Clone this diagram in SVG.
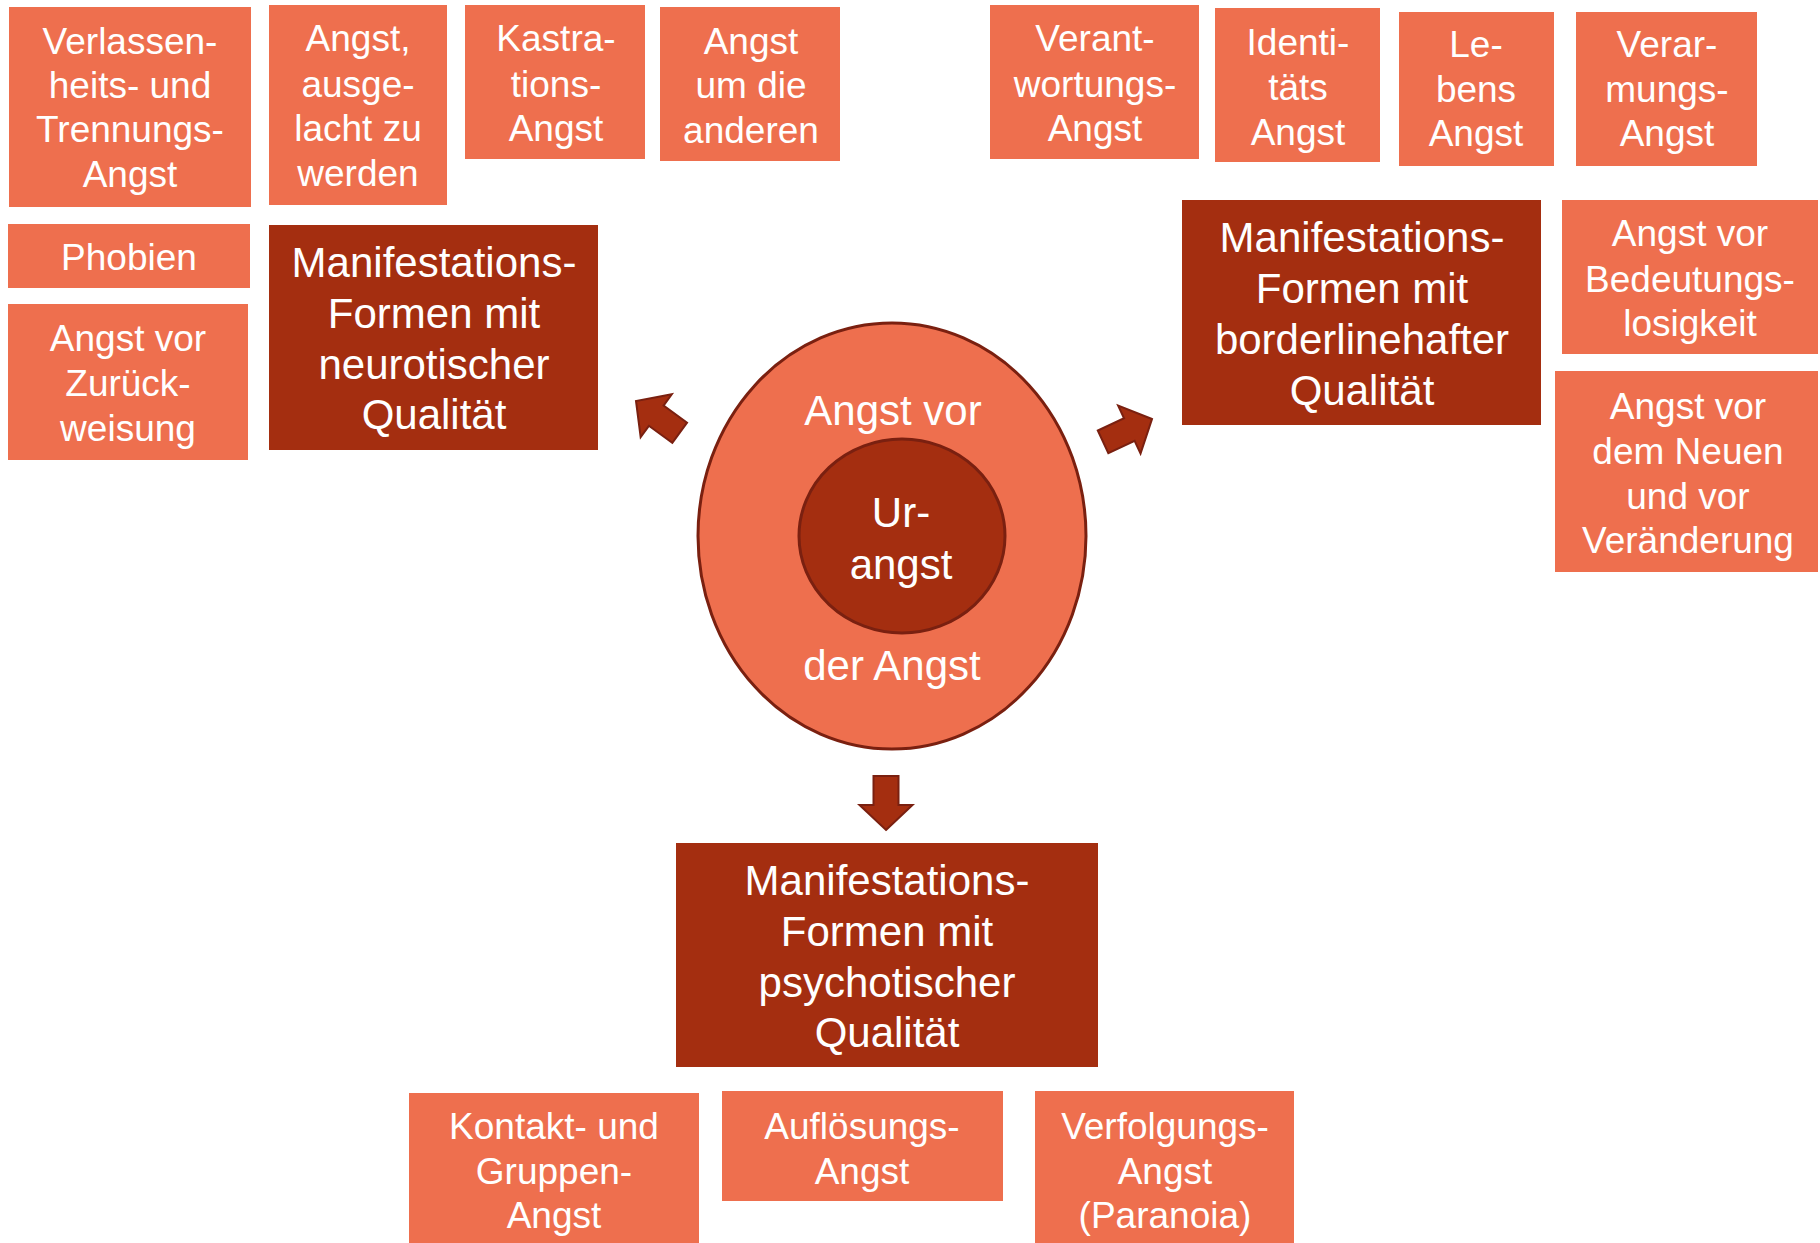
<svg xmlns="http://www.w3.org/2000/svg" width="1820" height="1243" viewBox="0 0 1820 1243">
<style>
.lt{fill:#EE6F4E}
.dk{fill:#A42E10}
text{font-family:"Liberation Sans",Arial,sans-serif;fill:#fff;text-anchor:middle;dominant-baseline:central}
.s{font-size:37px}
.b{font-size:42px}
.arr{fill:#A42E10;stroke:#7A2010;stroke-width:2;stroke-linejoin:miter}
</style>
<defs>
<polygon id="blk" points="0,0 -25,-26.5 -25,-12.5 -54,-12.5 -54,12.5 -25,12.5 -25,26.5"/>
</defs>
<rect width="1820" height="1243" fill="#fff"/>

<g id="connectors">
<use href="#blk" class="arr" transform="translate(886,830) rotate(90)"/>
<use href="#blk" class="arr" transform="translate(636,401) rotate(-144)"/>
<use href="#blk" class="arr" transform="translate(1152,419) rotate(-25)"/>
</g>

<g id="center">
<ellipse cx="892" cy="536" rx="194" ry="213" class="lt" stroke="#7A2010" stroke-width="3"/>
<ellipse cx="902" cy="536" rx="103" ry="97" class="dk" stroke="#7A2010" stroke-width="3"/>
<text class="b" x="893" y="410">Angst vor</text>
<text class="b" x="901" y="512">Ur-</text>
<text class="b" x="901" y="564">angst</text>
<text class="b" x="892" y="665">der Angst</text>
</g>

<g id="n-verlassen"><rect class="lt" x="9" y="7" width="242" height="200"/>
<text class="s" x="130" y="41">Verlassen-</text><text class="s" x="130" y="85">heits- und</text><text class="s" x="130" y="129">Trennungs-</text><text class="s" x="130" y="174">Angst</text></g>

<g id="n-ausgelacht"><rect class="lt" x="269" y="5" width="178" height="200"/>
<text class="s" x="358" y="38">Angst,</text><text class="s" x="358" y="84">ausge-</text><text class="s" x="358" y="128">lacht zu</text><text class="s" x="358" y="173">werden</text></g>

<g id="n-kastration"><rect class="lt" x="465" y="5" width="180" height="154"/>
<text class="s" x="556" y="38">Kastra-</text><text class="s" x="556" y="84">tions-</text><text class="s" x="556" y="128">Angst</text></g>

<g id="n-andere"><rect class="lt" x="660" y="7" width="180" height="154"/>
<text class="s" x="751" y="41">Angst</text><text class="s" x="751" y="85">um die</text><text class="s" x="751" y="130">anderen</text></g>

<g id="n-phobien"><rect class="lt" x="8" y="224" width="242" height="64"/>
<text class="s" x="129" y="257">Phobien</text></g>

<g id="n-zurueck"><rect class="lt" x="8" y="304" width="240" height="156"/>
<text class="s" x="128" y="338">Angst vor</text><text class="s" x="128" y="383">Zurück-</text><text class="s" x="128" y="428">weisung</text></g>

<g id="n-neurotisch"><rect class="dk" x="269" y="225" width="329" height="225"/>
<text class="b" x="434" y="262">Manifestations-</text><text class="b" x="434" y="313">Formen mit</text><text class="b" x="434" y="364">neurotischer</text><text class="b" x="434" y="414">Qualität</text></g>

<g id="n-verantwortung"><rect class="lt" x="990" y="5" width="209" height="154"/>
<text class="s" x="1095" y="38">Verant-</text><text class="s" x="1095" y="84">wortungs-</text><text class="s" x="1095" y="128">Angst</text></g>

<g id="n-identitaet"><rect class="lt" x="1215" y="8" width="165" height="154"/>
<text class="s" x="1298" y="42">Identi-</text><text class="s" x="1298" y="87">täts</text><text class="s" x="1298" y="132">Angst</text></g>

<g id="n-lebens"><rect class="lt" x="1399" y="12" width="155" height="154"/>
<text class="s" x="1476" y="44">Le-</text><text class="s" x="1476" y="89">bens</text><text class="s" x="1476" y="133">Angst</text></g>

<g id="n-verarmung"><rect class="lt" x="1576" y="12" width="181" height="154"/>
<text class="s" x="1667" y="44">Verar-</text><text class="s" x="1667" y="89">mungs-</text><text class="s" x="1667" y="133">Angst</text></g>

<g id="n-borderline"><rect class="dk" x="1182" y="200" width="359" height="225"/>
<text class="b" x="1362" y="237">Manifestations-</text><text class="b" x="1362" y="288">Formen mit</text><text class="b" x="1362" y="339">borderlinehafter</text><text class="b" x="1362" y="390">Qualität</text></g>

<g id="n-bedeutung"><rect class="lt" x="1562" y="200" width="256" height="154"/>
<text class="s" x="1690" y="233">Angst vor</text><text class="s" x="1690" y="279">Bedeutungs-</text><text class="s" x="1690" y="323">losigkeit</text></g>

<g id="n-neuen"><rect class="lt" x="1555" y="371" width="263" height="201"/>
<text class="s" x="1688" y="406">Angst vor</text><text class="s" x="1688" y="451">dem Neuen</text><text class="s" x="1688" y="496">und vor</text><text class="s" x="1688" y="540">Veränderung</text></g>

<g id="n-psychotisch"><rect class="dk" x="676" y="843" width="422" height="224"/>
<text class="b" x="887" y="880">Manifestations-</text><text class="b" x="887" y="931">Formen mit</text><text class="b" x="887" y="982">psychotischer</text><text class="b" x="887" y="1032">Qualität</text></g>

<g id="n-kontakt"><rect class="lt" x="409" y="1093" width="290" height="150"/>
<text class="s" x="554" y="1126">Kontakt- und</text><text class="s" x="554" y="1171">Gruppen-</text><text class="s" x="554" y="1215">Angst</text></g>

<g id="n-aufloesung"><rect class="lt" x="722" y="1091" width="281" height="110"/>
<text class="s" x="862" y="1126">Auflösungs-</text><text class="s" x="862" y="1171">Angst</text></g>

<g id="n-verfolgung"><rect class="lt" x="1035" y="1091" width="259" height="152"/>
<text class="s" x="1165" y="1126">Verfolgungs-</text><text class="s" x="1165" y="1171">Angst</text><text class="s" x="1165" y="1215">(Paranoia)</text></g>
</svg>
